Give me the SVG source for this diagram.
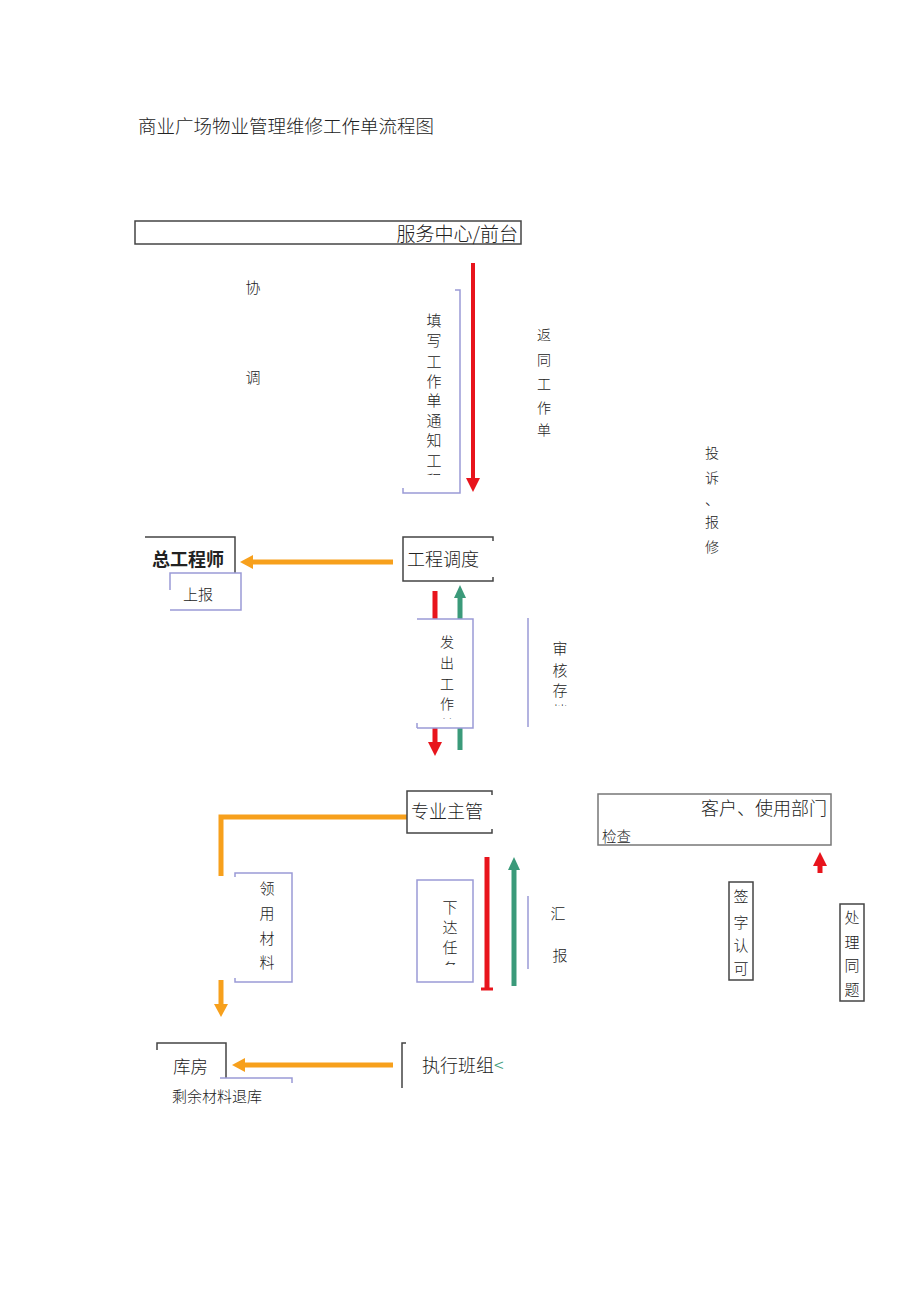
<svg xmlns="http://www.w3.org/2000/svg" width="920" height="1301" viewBox="0 0 920 1301">
<style>
text{font-family:"Noto Sans CJK SC","Noto Sans CJK TC",sans-serif;fill:#222;font-weight:300}
.t15{font-size:15px}
.t14{font-size:14px}
.t18{font-size:18px}
.dk{fill:none;stroke:#444;stroke-width:1.5}
.pu{fill:none;stroke:#9a9ad6;stroke-width:1.5}
.puw{fill:#fff;stroke:#9a9ad6;stroke-width:1.5}
.or{fill:none;stroke:#f7a01c;stroke-width:5}
.rd{fill:none;stroke:#e8141c;stroke-width:5}
.gr{fill:none;stroke:#3b9a7a;stroke-width:5}
.vc{text-anchor:middle}
</style>
<defs>
<marker id="hOr" markerUnits="userSpaceOnUse" markerWidth="14" markerHeight="14" refX="0" refY="7" orient="auto" viewBox="0 0 14 14"><path d="M0,0L13,7L0,14z" fill="#f7a01c"/></marker>
<marker id="hRd" markerUnits="userSpaceOnUse" markerWidth="14" markerHeight="14" refX="0" refY="7" orient="auto" viewBox="0 0 14 14"><path d="M0,0L14,7L0,14z" fill="#e8141c"/></marker>
<marker id="hGr" markerUnits="userSpaceOnUse" markerWidth="14" markerHeight="14" refX="0" refY="7" orient="auto" viewBox="0 0 14 14"><path d="M0,1L13,7L0,13z" fill="#3b9a7a"/></marker>
<clipPath id="c1"><rect x="400" y="300" width="60" height="175"/></clipPath>
<clipPath id="c2"><rect x="420" y="620" width="50" height="99"/></clipPath>
<clipPath id="c3"><rect x="540" y="630" width="40" height="76"/></clipPath>
<clipPath id="c4"><rect x="420" y="885" width="50" height="80"/></clipPath>
</defs>
<rect width="920" height="1301" fill="#fff"/>

<g id="title"><text x="138" y="133" style="font-size:18.5px">商业广场物业管理维修工作单流程图</text></g>

<g id="connectors">
<line class="rd" x1="473" y1="263" x2="473" y2="478" style="stroke-width:4" marker-end="url(#hRd)"/>
<line class="or" x1="393" y1="562" x2="253" y2="562" marker-end="url(#hOr)"/>
<line class="rd" x1="435" y1="591" x2="435" y2="742" marker-end="url(#hRd)"/>
<line class="gr" x1="460" y1="750" x2="460" y2="598" marker-end="url(#hGr)"/>
<polyline class="or" points="407,817 221,817 221,876"/>
<line class="or" x1="221" y1="980" x2="221" y2="1004" marker-end="url(#hOr)"/>
<line class="rd" x1="487" y1="857" x2="487" y2="989"/>
<line x1="481" y1="989" x2="493" y2="989" stroke="#e8141c" stroke-width="3"/>
<line class="gr" x1="514" y1="986" x2="514" y2="870" marker-end="url(#hGr)"/>
<line class="or" x1="393" y1="1065" x2="245" y2="1065" marker-end="url(#hOr)"/>
<line x1="820" y1="873" x2="820" y2="866" stroke="#e8141c" stroke-width="5" marker-end="url(#hRd)"/>
</g>

<g id="node-service"><rect class="dk" x="135" y="221" width="386" height="23"/><text x="518" y="241" text-anchor="end" style="font-size:19px">服务中心/前台</text></g>

<g id="label-xietiao"><text class="t15 vc"><tspan x="253" y="293">协</tspan><tspan x="253" y="383">调</tspan></text></g>

<g id="label-tianxie"><path class="pu" d="M455,290H460V493H403V488"/><g clip-path="url(#c1)"><text class="t15 vc"><tspan x="434" y="326">填</tspan><tspan x="434" y="346">写</tspan><tspan x="434" y="367">工</tspan><tspan x="434" y="387">作</tspan><tspan x="434" y="406">单</tspan><tspan x="434" y="426">通</tspan><tspan x="434" y="446">知</tspan><tspan x="434" y="466">工</tspan><tspan x="434" y="486">程</tspan></text></g></g>

<g id="label-fanhui"><text class="t14 vc"><tspan x="544" y="340">返</tspan><tspan x="544" y="365">同</tspan><tspan x="544" y="389">工</tspan><tspan x="544" y="413">作</tspan><tspan x="544" y="435">单</tspan></text></g>

<g id="label-tousu"><text class="t14 vc"><tspan x="712" y="458">投</tspan><tspan x="712" y="483">诉</tspan><tspan x="712" y="505">、</tspan><tspan x="712" y="527">报</tspan><tspan x="712" y="552">修</tspan></text></g>

<g id="node-zonggong"><path class="dk" d="M145,537H235V573"/><text x="152" y="566" style="font-size:18px;font-weight:700">总工程师</text></g>

<g id="label-shangbao"><path class="pu" d="M170,590V573H241V610H170"/><text class="t15" x="183" y="600">上报</text></g>

<g id="node-diaodu"><path class="dk" d="M493,541V537H403V581H493V577"/><text class="t18" x="407" y="566">工程调度</text></g>

<g id="label-fachu"><path class="puw" d="M421,619H473V728H417" /><path class="pu" d="M417,619H421M417,728V723"/><g clip-path="url(#c2)"><text class="t14 vc"><tspan x="447" y="647">发</tspan><tspan x="447" y="668">出</tspan><tspan x="447" y="689">工</tspan><tspan x="447" y="709">作</tspan><tspan x="447" y="730">单</tspan></text></g></g>

<g id="label-shenhe"><line class="pu" x1="528" y1="618" x2="528" y2="727"/><g clip-path="url(#c3)"><text class="t15 vc"><tspan x="560" y="654">审</tspan><tspan x="560" y="676">核</tspan><tspan x="560" y="696">存</tspan><tspan x="560" y="717">档</tspan></text></g></g>

<g id="node-zhuguan"><path class="dk" d="M492,795V791H407V833H492V829"/><text class="t18" x="411" y="818">专业主管</text></g>

<g id="label-lingyong"><path class="pu" d="M235,877V873H292V982H235V978"/><text class="t15 vc"><tspan x="267" y="894">领</tspan><tspan x="267" y="919">用</tspan><tspan x="267" y="944">材</tspan><tspan x="267" y="968">料</tspan></text></g>

<g id="label-xiada"><rect class="pu" x="417" y="880" width="56" height="102"/><g clip-path="url(#c4)"><text class="t15 vc"><tspan x="450" y="913">下</tspan><tspan x="450" y="933">达</tspan><tspan x="450" y="953">任</tspan><tspan x="450" y="974">务</tspan></text></g></g>

<g id="label-huibao"><line class="pu" x1="528" y1="896" x2="528" y2="969"/><text class="t15 vc"><tspan x="558" y="919">汇</tspan><tspan x="560" y="961">报</tspan></text></g>

<g id="node-kufang"><path class="dk" d="M157,1050V1043H226V1078"/><text x="173" y="1073" style="font-size:17.5px">库房</text></g>

<g id="label-shengyu"><path class="pu" d="M220,1078H292V1083"/><text class="t15" x="172" y="1102">剩余材料退库</text></g>

<g id="node-banzu"><path class="dk" d="M406,1043H402V1088"/><text class="t18" x="422" y="1072">执行班组<tspan style="fill:#3b9a7a">&lt;</tspan></text></g>

<g id="node-kehu"><rect x="598" y="794" width="233" height="51" fill="none" stroke="#777" stroke-width="1.5"/><text class="t18" x="827" y="815" text-anchor="end">客户、使用部门</text><text x="602" y="842" style="font-size:14.5px">检查</text></g>

<g id="label-qianzi"><rect class="dk" x="729" y="882" width="24" height="98"/><text class="t15 vc"><tspan x="741" y="902">签</tspan><tspan x="741" y="928">字</tspan><tspan x="741" y="951">认</tspan><tspan x="741" y="974">可</tspan></text></g>

<g id="label-chuli"><rect class="dk" x="840" y="904" width="24" height="97"/><text class="t15 vc"><tspan x="852" y="923">处</tspan><tspan x="852" y="948">理</tspan><tspan x="852" y="971">同</tspan><tspan x="852" y="995">题</tspan></text></g>
</svg>
